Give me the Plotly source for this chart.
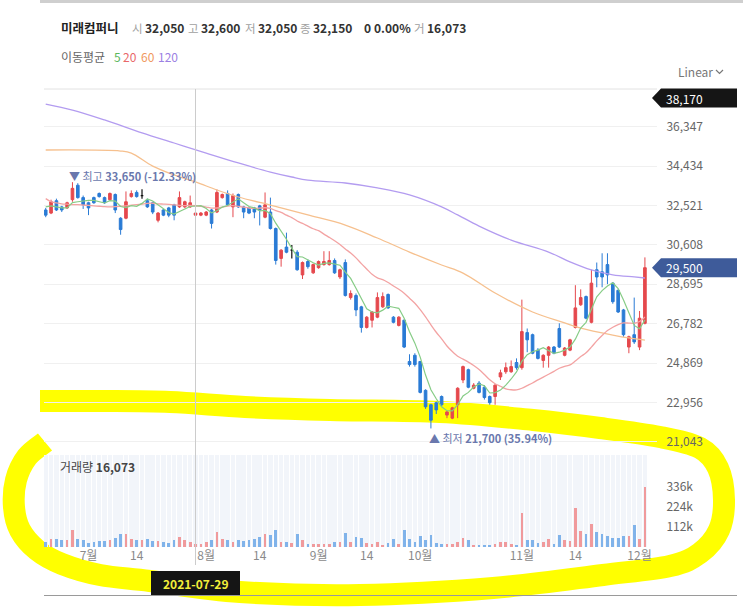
import numpy as np
import pandas as pd
import plotly.graph_objects as go

# ---------------- data ----------------
holidays = ['2021-08-16', '2021-09-20', '2021-09-21', '2021-09-22', '2021-10-04', '2021-10-11']
dates = [d.strftime('%Y-%m-%d') for d in pd.bdate_range('2021-06-21', '2021-12-02')
         if d.strftime('%Y-%m-%d') not in holidays]

opens = [32300, 32150, 32750, 32450, 32400, 32800, 33500, 32900, 32650, 32900,
         33100, 32900, 32800, 33050, 31900, 31900, 32950, 33150, 33000, 32750,
         32650, 31800, 32300, 32400, 32550, 32450, 32450, 32450, 32050, 32050,
         32050, 32300, 32200, 32900, 33100, 32450, 33050, 32450, 32400, 32400,
         32500, 31950, 32200, 31400, 29950, 30500, 30350, 30250, 29150, 29800,
         29250, 29500, 29650, 29650, 29850, 29050, 29750, 28050, 28150, 27600,
         26600, 26950, 27100, 27600, 28200, 27100, 26700, 26950, 24950, 25250,
         24950, 23550, 22850, 22950, 23250, 22350, 22200, 22850, 24050, 24550,
         23650, 23900, 23700, 23250, 23250, 24200, 24450, 24450, 24900, 24650,
         26350, 26250, 25500, 25000, 25250, 25650, 26550, 25250, 25500, 26600,
         27700, 28100, 26850, 29400, 29300, 29650, 28750, 28400, 27450, 25650,
         26250, 25650, 26800]
highs = [32400, 32800, 32850, 32500, 32700, 33650, 33600, 33000, 32700, 32950,
         33150, 32950, 33150, 33100, 31950, 33200, 33250, 33250, 33300, 32850,
         32700, 32200, 32350, 32450, 32600, 33200, 32750, 33000, 32600, 32200,
         32250, 32350, 33300, 33100, 33250, 33100, 33100, 32500, 32450, 32450,
         32550, 33150, 32900, 31450, 30400, 31200, 30600, 30350, 29800, 29900,
         29700, 29850, 30300, 30300, 29950, 29450, 29900, 28400, 28250, 27650,
         27150, 27400, 28300, 28300, 28250, 27150, 27150, 27000, 25300, 25350,
         24950, 23600, 22900, 23000, 23300, 22550, 22750, 23700, 24750, 24600,
         23900, 24000, 23800, 23300, 23850, 24550, 24900, 25000, 25100, 27950,
         26550, 26300, 25600, 25300, 25700, 25700, 26800, 25650, 26050, 28650,
         28450, 28150, 29400, 29750, 30200, 30200, 28800, 28450, 27500, 26200,
         28050, 27400, 30000]
lows = [31950, 32100, 32250, 32200, 32350, 32700, 32850, 32350, 32050, 32600,
        32900, 32600, 32750, 32150, 31100, 31850, 32900, 32900, 32850, 32400,
        32100, 31700, 32000, 31950, 31800, 32400, 32400, 32400, 32050, 32000,
        32000, 31400, 32150, 32850, 32500, 31950, 32400, 31900, 32100, 31900,
        31550, 31900, 31350, 29650, 29550, 30200, 29950, 29350, 28950, 29450,
        29200, 29450, 29600, 29600, 29200, 28950, 28100, 27950, 27150, 26350,
        26550, 26600, 27050, 27550, 27500, 26800, 26650, 25600, 24700, 24700,
        23400, 22650, 21700, 22400, 22750, 22200, 22150, 22200, 23900, 23650,
        23600, 23400, 23100, 22850, 22850, 24050, 24350, 24400, 24550, 24550,
        25400, 25300, 25050, 24650, 24650, 25300, 25600, 25200, 25450, 26550,
        27650, 27000, 26800, 28550, 28550, 28700, 27750, 27300, 26150, 25350,
        25800, 25500, 26750]
closes = [32050, 32700, 32300, 32300, 32650, 33350, 32900, 32550, 32400, 32650,
          32950, 32650, 33100, 32300, 31350, 32700, 33100, 32950, 33000, 32450,
          32200, 32150, 32050, 32050, 32050, 32900, 32700, 32650, 32150, 32150,
          32200, 31650, 33150, 33050, 32550, 33000, 32450, 32200, 32150, 32200,
          32300, 32550, 31400, 29850, 30350, 30250, 30350, 29400, 29750, 29550,
          29650, 29800, 29800, 29850, 29250, 29400, 28150, 28250, 27450, 26600,
          27100, 27350, 28050, 28100, 27550, 26850, 27100, 25650, 24800, 24800,
          23450, 22750, 22100, 22600, 22850, 22500, 22700, 23650, 24700, 23700,
          23800, 23450, 23200, 22950, 23800, 24400, 24650, 24700, 24650, 26400,
          26000, 25350, 25100, 25250, 25650, 25350, 25650, 25600, 26000, 27550,
          28050, 27050, 28750, 29050, 29050, 29150, 27850, 27350, 26250, 26150,
          25900, 27050, 29500]
volumes = [28000, 44000, 42000, 41000, 37000, 92000, 44000, 39000, 24000, 28000,
           33000, 33000, 37000, 52000, 70000, 74000, 42000, 37000, 37000, 44000,
           31000, 31000, 30000, 20000, 37000, 55000, 41000, 28000, 16073, 15000,
           28000, 41000, 85000, 46000, 37000, 30000, 37000, 33000, 37000, 46000,
           55000, 70000, 68000, 96000, 28000, 28000, 20000, 74000, 41000, 18000,
           15000, 18000, 18000, 18000, 28000, 28000, 80000, 28000, 55000, 52000,
           22000, 18000, 28000, 13000, 22000, 42000, 18000, 92000, 42000, 28000,
           59000, 37000, 68000, 24000, 18000, 15000, 18000, 28000, 50000, 41000,
           13000, 9000, 9000, 13000, 18000, 28000, 28000, 18000, 13000, 188000,
           37000, 41000, 22000, 28000, 46000, 18000, 65000, 41000, 31000, 216000,
           89000, 70000, 126000, 81000, 74000, 61000, 52000, 52000, 59000, 61000,
           120000, 46000, 333000]

# moving-average values before enough history is visible
ma5_head = [32450, 32500, 32450, 32400]
ma20_head = [32850, 32700, 32650, 32600, 32580, 32560, 32560, 32540, 32520, 32500,
             32480, 32460, 32450, 32460, 32480, 32500, 32530, 32560, 32590]
# MA60 / MA120 read at candle indices
ma60_idx = [0, 14, 16, 20, 24, 28, 32, 36, 42, 44, 49, 56, 62, 68, 74, 78, 84, 91, 97, 100, 106, 109, 112]
ma60_val = [35210, 35160, 35060, 34430, 34000, 33660, 33270, 32930, 32540, 32400, 32060, 31570,
            30940, 30260, 29630, 29240, 28270, 27350, 26820, 26570, 26230, 26090, 25990]
ma120_idx = [0, 5, 11, 18, 24, 30, 36, 42, 46, 49, 56, 62, 68, 74, 77, 81, 87, 94, 98, 102, 106, 110, 112]
ma120_val = [37440, 37150, 36670, 36040, 35550, 35060, 34580, 34140, 33900, 33750, 33610, 33370,
             33030, 32450, 32060, 31520, 30840, 30260, 29780, 29390, 29150, 29050, 29000]

price_ticks = [21043, 22956, 24869, 26782, 28695, 30608, 32521, 34434, 36347]
vol_ticks = [112000, 224000, 336000]
vol_tick_text = ['112k', '224k', '336k']
x_tick_dates = ['2021-07-01', '2021-07-14', '2021-08-02', '2021-08-17', '2021-09-01',
                '2021-09-14', '2021-10-01', '2021-11-01', '2021-11-15', '2021-12-01']
x_tick_text = ['7월', '14', '8월', '14', '9월', '14', '10월', '11월', '14', '12월']
hover_date = '2021-07-29'
last_price = 29500
cross_price = 38170
hi_price, lo_price = 33650, 21700

# ---------------- derived ----------------
n = len(dates)
cl = pd.Series(closes, dtype=float)
ma5 = cl.rolling(5).mean().tolist()
ma20 = cl.rolling(20).mean().tolist()
ma5[:4] = ma5_head
ma20[:19] = ma20_head

o = np.array(opens); c = np.array(closes)
doji = o == c
def pick(arr, mask):
    return [v if m else None for v, m in zip(arr, mask)]

W, H = 743, 608
L, R, T, B = 44, 657, 89, 547          # plot area in pixels
def px(x): return (x - L) / (R - L)
def py(y): return (B - y) / (B - T)

FONT = 'Noto Sans CJK KR'
RED, BLUE = '#e5484d', '#2a7bd5'
VRED, VBLUE = '#f09a9c', '#80b3ea'

price_range = [20509, 38170]
vol_range = [0, 510000]

fig = go.Figure()
# volume pane background columns
fig.add_trace(go.Bar(x=dates, y=[vol_range[1]] * n, yaxis='y2', marker_color='#f2f5fa',
                     marker_line_width=0, width=0.84, hoverinfo='skip', showlegend=False))
vcols = [VRED if cc >= oo else VBLUE for oo, cc in zip(opens, closes)]
fig.add_trace(go.Bar(x=dates, y=volumes, yaxis='y2', marker_color=vcols,
                     marker_line_width=0, width=0.5, showlegend=False))

# moving averages
fig.add_trace(go.Scatter(x=[dates[i] for i in ma120_idx], y=ma120_val, mode='lines',
                         line=dict(color='#b39cf0', width=1.3, shape='spline', smoothing=1.0),
                         showlegend=False))
fig.add_trace(go.Scatter(x=[dates[i] for i in ma60_idx], y=ma60_val, mode='lines',
                         line=dict(color='#f6c08e', width=1.3, shape='spline', smoothing=1.0),
                         showlegend=False))
fig.add_trace(go.Scatter(x=dates, y=ma20, mode='lines',
                         line=dict(color='#f3a3a3', width=1.3, shape='spline', smoothing=0.8),
                         showlegend=False))
fig.add_trace(go.Scatter(x=dates, y=ma5, mode='lines',
                         line=dict(color='#86cc86', width=1.2), showlegend=False))

# candles
nd = ~doji
fig.add_trace(go.Candlestick(
    x=dates, open=pick(opens, nd), high=pick(highs, nd), low=pick(lows, nd), close=pick(closes, nd),
    increasing=dict(line=dict(color=RED, width=1), fillcolor=RED),
    decreasing=dict(line=dict(color=BLUE, width=1), fillcolor=BLUE),
    whiskerwidth=0, showlegend=False))
fig.add_trace(go.Candlestick(
    x=dates, open=pick(opens, doji), high=pick(highs, doji), low=pick(lows, doji), close=pick(closes, doji),
    increasing=dict(line=dict(color='#111', width=1.2), fillcolor='#111'),
    decreasing=dict(line=dict(color='#111', width=1.2), fillcolor='#111'),
    whiskerwidth=0, showlegend=False))

# ---------------- shapes ----------------
shapes = []
shapes.append(dict(type='line', xref='paper', yref='paper', x0=px(40), x1=px(743), y0=py(1.5), y1=py(1.5),
                   line=dict(color='#cfcfcf', width=3)))
shapes.append(dict(type='line', xref='paper', yref='paper', x0=0, x1=1, y0=1, y1=1,
                   line=dict(color='#e2e2e2', width=1)))
shapes.append(dict(type='line', xref='paper', yref='paper', x0=px(44), x1=px(737), y0=py(595.5), y1=py(595.5),
                   line=dict(color='#9a9a9a', width=1)))
hidx = dates.index(hover_date)
shapes.append(dict(type='line', xref='x', yref='paper', x0=hidx, x1=hidx, y0=py(565), y1=1,
                   line=dict(color='#cccccc', width=1), layer='above'))

# yellow highlighter stroke (decoration), drawn beneath the marks like a highlighter
stroke = [(40, 401), (100, 401), (170, 402), (245, 407), (330, 410), (440, 412), (533, 420),
          (600, 428), (660, 437), (700, 448), (718, 468), (724, 500), (719, 530), (700, 553),
          (670, 566), (603, 575), (493, 588), (360, 595), (240, 592), (150, 581), (100, 575),
          (62, 564), (37, 550), (20, 530), (14, 507), (16, 480), (27, 457), (45, 442)]
P = [np.array([px(x), py(y)]) for x, y in stroke]
d = f"M {P[0][0]:.5f},{P[0][1]:.5f}"
for i in range(len(P) - 1):
    p0 = P[i - 1] if i > 0 else P[i]
    p1, p2 = P[i], P[i + 1]
    p3 = P[i + 2] if i + 2 < len(P) else P[i + 1]
    c1 = p1 + (p2 - p0) / 6
    c2 = p2 - (p3 - p1) / 6
    d += f" C {c1[0]:.5f},{c1[1]:.5f} {c2[0]:.5f},{c2[1]:.5f} {p2[0]:.5f},{p2[1]:.5f}"
shapes.append(dict(type='path', xref='paper', yref='paper', path=d,
                   line=dict(color='#ffff00', width=22), layer='below'))

def tag(yc, color):
    pts = [(652, yc), (661, yc - 9.5), (737, yc - 9.5), (737, yc + 9.5), (661, yc + 9.5)]
    pth = 'M ' + ' L '.join(f"{px(x):.5f},{py(y):.5f}" for x, y in pts) + ' Z'
    return dict(type='path', xref='paper', yref='paper', path=pth, fillcolor=color,
                line=dict(width=0), layer='above')
shapes.append(tag(98, '#151515'))
y_last = T + (price_range[1] - last_price) / (price_range[1] - price_range[0]) * (453 - T)
shapes.append(tag(y_last, '#3e5b9a'))
# date box
shapes.append(dict(type='rect', xref='paper', yref='paper', x0=px(151), x1=px(240), y0=py(595), y1=py(571),
                   fillcolor='#151515', line=dict(width=0), layer='above'))
# Linear chevron
shapes.append(dict(type='path', xref='paper', yref='paper',
                   path=f"M {px(716)},{py(70)} L {px(719.5)},{py(73.5)} L {px(723)},{py(70)}",
                   line=dict(color='#777', width=1.2)))

# ---------------- annotations ----------------
ann = []
def text(x, y, s, color='#333', size=12, bold=False, anchor='left', bg=None):
    a = dict(xref='paper', yref='paper', x=px(x), y=py(y), text=(f'<b>{s}</b>' if bold else s),
             showarrow=False, xanchor=anchor, yanchor='middle',
             font=dict(family=FONT, size=size, color=color))
    if bg:
        a['bgcolor'] = bg
    ann.append(a)

def fmt(v): return f'{v:,}'
hi = dates.index(hover_date)
text(59, 28, '미래컴퍼니', '#222', 12.5, True)
labels = [(130, '시', fmt(opens[hi])), (186, '고', fmt(highs[hi])), (243, '저', fmt(lows[hi])),
          (298, '종', fmt(closes[hi]))]
for x, lab, num in labels:
    text(x, 28, lab, '#a0a0a0', 11.5)
    text(x + 13, 28, num, '#333', 12, True)
text(362, 28, '0', '#333', 12, True)
text(372, 28, '0.00%', '#333', 12, True)
text(412, 28, '거', '#a0a0a0', 11.5)
text(425, 28, fmt(volumes[hi]), '#333', 12, True)

text(59, 56, '이동평균', '#666', 12)
text(112, 56, '5', '#5cb85c', 12)
text(121, 56, '20', '#e9686a', 12)
text(139, 56, '60', '#f0985e', 12)
text(156, 56, '120', '#9b80e3', 12)
text(676, 72, 'Linear', '#777', 12)

text(664, 98, fmt(cross_price), '#ffffff', 12)
text(664, y_last, fmt(last_price), '#ffffff', 12)

pct_hi = (last_price - hi_price) / hi_price * 100
pct_lo = (last_price - lo_price) / lo_price * 100
text(67, 176, f"▼ 최고 <b>{fmt(hi_price)} ({pct_hi:.2f}%)</b>", '#6a78ad', 11)
text(427, 438, f"▲ 최저 <b>{fmt(lo_price)} ({pct_lo:.2f}%)</b>", '#6a78ad', 11)

text(58, 466, f"거래량 <b>{fmt(volumes[hi])}</b>", '#444', 12)
text(195.5, 583, hover_date, '#f2ee3a', 12, True, anchor='center')

fig.update_layout(
    width=W, height=H, margin=dict(l=L, r=W - R, t=T, b=H - B),
    paper_bgcolor='white', plot_bgcolor='white',
    barmode='overlay', bargap=0, showlegend=False,
    shapes=shapes, annotations=ann,
    font=dict(family=FONT, color='#666', size=12),
    xaxis=dict(type='category', range=[-0.32, 114.26], anchor='y2', showgrid=False,
               tickvals=x_tick_dates, ticktext=x_tick_text, ticks='', showline=False,
               tickfont=dict(size=12, color='#8a8a8a'), rangeslider=dict(visible=False),
               zeroline=False),
    yaxis=dict(domain=[py(453), 1], range=price_range, side='right', anchor='x',
               tickvals=price_ticks, ticktext=[fmt(v) for v in price_ticks],
               showgrid=True, gridcolor='#f0f0f0', zeroline=False, showline=False,
               ticks='outside', ticklen=6, tickcolor='rgba(0,0,0,0)',
               tickfont=dict(size=12, color='#666')),
    yaxis2=dict(domain=[0, py(455)], range=vol_range, side='right', anchor='x',
                tickvals=vol_ticks, ticktext=vol_tick_text, showgrid=False, zeroline=False,
                ticks='outside', ticklen=6, tickcolor='rgba(0,0,0,0)',
                tickfont=dict(size=12, color='#666')),
)
fig.write_html('out.html')
